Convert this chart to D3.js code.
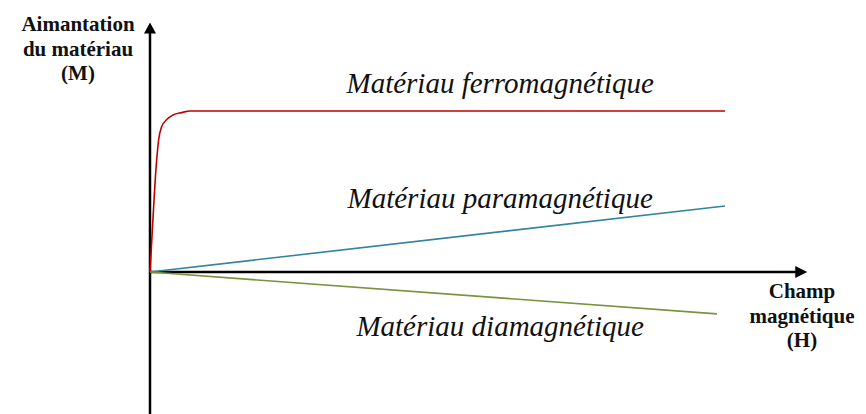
<!DOCTYPE html>
<html>
<head>
<meta charset="utf-8">
<script src="https://cdn.jsdelivr.net/npm/d3@7"></script>
</head>
<body style="margin:0;background:#fff">
<svg id="chart" width="866" height="414" style="display:block"></svg>
<script>
// Magnetization M versus applied field H for three kinds of material
const ferroH = [0, 0.05, 0.1, 0.15, 0.2, 0.3, 0.4, 0.55, 0.7, 1.0, 10];
const ferroM = [0, 0.32, 0.62, 0.82, 0.9, 0.95, 0.975, 0.99, 1.0, 1.0, 1.0];
const paraH = [0, 10];
const paraM = [0, 0.41];
const diaH = [0, 9.86];
const diaM = [0, -0.26];

const seriesNames = ["Matériau ferromagnétique", "Matériau paramagnétique", "Matériau diamagnétique"];
const seriesColors = ["#c00000", "#31859c", "#77933c"];

const yAxisTitle = ["Aimantation", "du matériau", "(M)"];
const xAxisTitle = ["Champ", "magnétique", "(H)"];

const SERIF = "Liberation Serif";

const svg = d3.select("#chart");

// Scales: origin of the H–M plane sits at (150, 272)
const x = d3.scaleLinear().domain([0, 10]).range([150, 725]);
const y = d3.scaleLinear().domain([0, 1]).range([272, 111]);

// Axes with arrowheads
const xEnd = x(11.43);
const yTop = y(1.55);
const yBottom = 414;

svg.append("line")
  .attr("x1", x(0)).attr("y1", yBottom)
  .attr("x2", x(0)).attr("y2", yTop + 8)
  .attr("stroke", "#000").attr("stroke-width", 2.5);
svg.append("path")
  .attr("d", `M${x(0)},${yTop} L${x(0) - 6},${yTop + 11} L${x(0) + 6},${yTop + 11} Z`)
  .attr("fill", "#000");

svg.append("line")
  .attr("x1", x(0)).attr("y1", y(0))
  .attr("x2", xEnd - 8).attr("y2", y(0))
  .attr("stroke", "#000").attr("stroke-width", 2.5);
svg.append("path")
  .attr("d", `M${xEnd},${y(0)} L${xEnd - 12},${y(0) - 6} L${xEnd - 12},${y(0) + 6} Z`)
  .attr("fill", "#000");

// Curves
const line = d3.line().x(d => x(d[0])).y(d => y(d[1])).curve(d3.curveMonotoneX);
const series = [
  d3.zip(ferroH, ferroM),
  d3.zip(paraH, paraM),
  d3.zip(diaH, diaM)
];
series.forEach((pts, i) => {
  svg.append("path")
    .datum(pts)
    .attr("d", line)
    .attr("fill", "none")
    .attr("stroke", seriesColors[i])
    .attr("stroke-width", 1.6);
});

// Curve labels, centred above / below their curves
const labelPos = [
  { h: 6.09, baseline: 93 },
  { h: 6.09, baseline: 208 },
  { h: 6.09, baseline: 336 }
];
seriesNames.forEach((name, i) => {
  svg.append("text")
    .style("font-family", SERIF, "important")
    .style("font-style", "italic")
    .style("font-size", "29px")
    .attr("fill", "#111")
    .attr("x", x(labelPos[i].h))
    .attr("y", labelPos[i].baseline)
    .attr("text-anchor", "middle")
    .text(name);
});

// Axis titles
function axisTitle(lines, cx, firstBaseline) {
  svg.append("text")
    .style("font-family", SERIF, "important")
    .style("font-weight", "bold")
    .style("font-size", "21px")
    .attr("fill", "#111")
    .attr("text-anchor", "middle")
    .selectAll("tspan")
    .data(lines)
    .join("tspan")
    .attr("x", cx)
    .attr("y", (d, i) => firstBaseline + i * 24.5)
    .text(d => d);
}
axisTitle(yAxisTitle, 78, 31);
axisTitle(xAxisTitle, 802, 298);
</script>
</body>
</html>
